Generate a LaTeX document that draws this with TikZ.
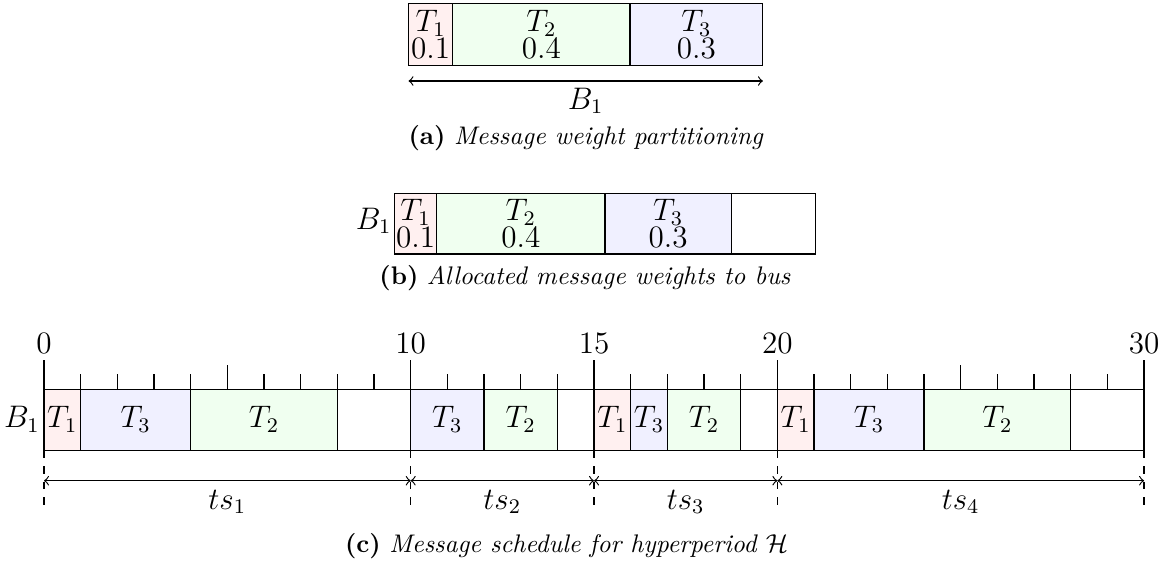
\documentclass[tikz,border=0pt]{standalone}
\definecolor{tonec}{RGB}{255,240,240}
\definecolor{ttwoc}{RGB}{240,255,240}
\definecolor{tthreec}{RGB}{240,240,255}
\begin{document}
\begin{tikzpicture}[x=0.385pt,y=-0.385pt,line width=0.45pt,
  lbl/.style={font=\large, inner sep=0pt},
  two/.style={font=\fontsize{12}{10.2}\selectfont, align=center, inner sep=0pt},
  captxt/.style={font=\fontsize{9.8}{11.5}\selectfont, inner sep=0pt},
  dline/.style={dashed},
  span/.style={<->}]
\useasboundingbox (0,0) rectangle (1165,575);

% ---------- (a)
\fill[tonec] (408.5,3.5) rectangle (452.8,65.5);
\fill[ttwoc] (452.8,3.5) rectangle (630,65.5);
\fill[tthreec] (630,3.5) rectangle (762.9,65.5);
\draw (408.5,3.5) rectangle (762.9,65.5);
\draw (452.8,3.5) -- (452.8,65.5);
\draw (630,3.5) -- (630,65.5);
\node[two] (a1) at (430.65,34.5) {$T_1$\\0.1};
\node[two] (a2) at (541.4,34.5) {$T_2$\\0.4};
\node[two] (a3) at (696.45,34.5) {$T_3$\\0.3};
\coordinate (aL) at (408.5,81);
\coordinate (aR) at (762.9,81);
\draw[span] (aL) -- (aR);
\node[lbl] (aB) at (585.7,101) {$B_1$};
\node[captxt] (capa) at (586,138) {\textbf{(a)} \textit{Message weight partitioning}};

% ---------- (b)
\fill[tonec] (394.5,193.3) rectangle (436.6,254);
\fill[ttwoc] (436.6,193.3) rectangle (605,254);
\fill[tthreec] (605,193.3) rectangle (731.3,254);
\draw (394.5,193.3) rectangle (815.5,254);
\foreach \xx in {436.6,605,731.3} \draw (\xx,193.3) -- (\xx,254);
\node[two] (b1) at (415.55,223.6) {$T_1$\\0.1};
\node[two] (b2) at (520.8,223.6) {$T_2$\\0.4};
\node[two] (b3) at (668.15,223.6) {$T_3$\\0.3};
\node[lbl, anchor=east] (bB) at (392,221) {$B_1$};
\node[captxt] (capb) at (585,278) {\textbf{(b)} \textit{Allocated message weights to bus}};

% ---------- (c)
\begin{scope}[xshift=16.94pt, x=14.117pt]
  \fill[tonec] (0,389.3) rectangle (1,450.5);
  \fill[tthreec] (1,389.3) rectangle (4,450.5);
  \fill[ttwoc] (4,389.3) rectangle (8,450.5);
  \fill[tthreec] (10,389.3) rectangle (12,450.5);
  \fill[ttwoc] (12,389.3) rectangle (14,450.5);
  \fill[tonec] (15,389.3) rectangle (16,450.5);
  \fill[tthreec] (16,389.3) rectangle (17,450.5);
  \fill[ttwoc] (17,389.3) rectangle (19,450.5);
  \fill[tonec] (20,389.3) rectangle (21,450.5);
  \fill[tthreec] (21,389.3) rectangle (24,450.5);
  \fill[ttwoc] (24,389.3) rectangle (28,450.5);
  \draw (0,389.3) rectangle (30,450.5);
  \foreach \xx in {1,4,8,10,12,14,15,16,17,19,20,21,24,28}
    \draw (\xx,389.3) -- (\xx,450.5);
  % ticks
  \foreach \xx in {1,2,3,4,6,7,8,9,11,12,13,14,16,17,18,19,21,22,23,24,26,27,28,29}
    \draw (\xx,389.3) -- (\xx,374.3);
  \foreach \xx in {5,25}
    \draw (\xx,389.3) -- (\xx,365);
  \foreach \xx in {0,10,15,20,30}
    \draw (\xx,389.3) -- (\xx,360);
  % labels
  \foreach \xx in {0,10,15,20,30}
    \node[lbl] (n\xx) at (\xx,343) {\xx};
  \node[lbl, anchor=east] (cB) at (-0.1,419.5) {$B_1$};
  \node[lbl] (c1) at (0.5,419.5) {$T_1$};
  \node[lbl] (c2) at (2.5,419.5) {$T_3$};
  \node[lbl] (c3) at (6,419.5) {$T_2$};
  \node[lbl] (c4) at (11,419.5) {$T_3$};
  \node[lbl] (c5) at (13,419.5) {$T_2$};
  \node[lbl] (c6) at (15.5,419.5) {$T_1$};
  \node[lbl] (c7) at (16.5,419.5) {$T_3$};
  \node[lbl] (c8) at (18,419.5) {$T_2$};
  \node[lbl] (c9) at (20.5,419.5) {$T_1$};
  \node[lbl] (c10) at (22.5,419.5) {$T_3$};
  \node[lbl] (c11) at (26,419.5) {$T_2$};
  % dashed guides and spans
  \foreach \xx in {0,10,15,20,30} {
    \coordinate (u\xx) at (\xx,450.5);
    \coordinate (l\xx) at (\xx,508);
    \coordinate (m\xx) at (\xx,480.7);
    \draw[dline] (u\xx) -- (l\xx);
  }
  \draw[span] (m0) -- (m10);
  \draw[span] (m10) -- (m15);
  \draw[span] (m15) -- (m20);
  \draw[span] (m20) -- (m30);
  \node[lbl] (s1) at (5,502) {$ts_1$};
  \node[lbl] (s2) at (12.5,502) {$ts_2$};
  \node[lbl] (s3) at (17.5,502) {$ts_3$};
  \node[lbl] (s4) at (25,502) {$ts_4$};
\end{scope}
\node[captxt] (capc) at (566.5,546) {\textbf{(c)} \textit{Message schedule for hyperperiod $\mathcal{H}$}};
\end{tikzpicture}
\end{document}
